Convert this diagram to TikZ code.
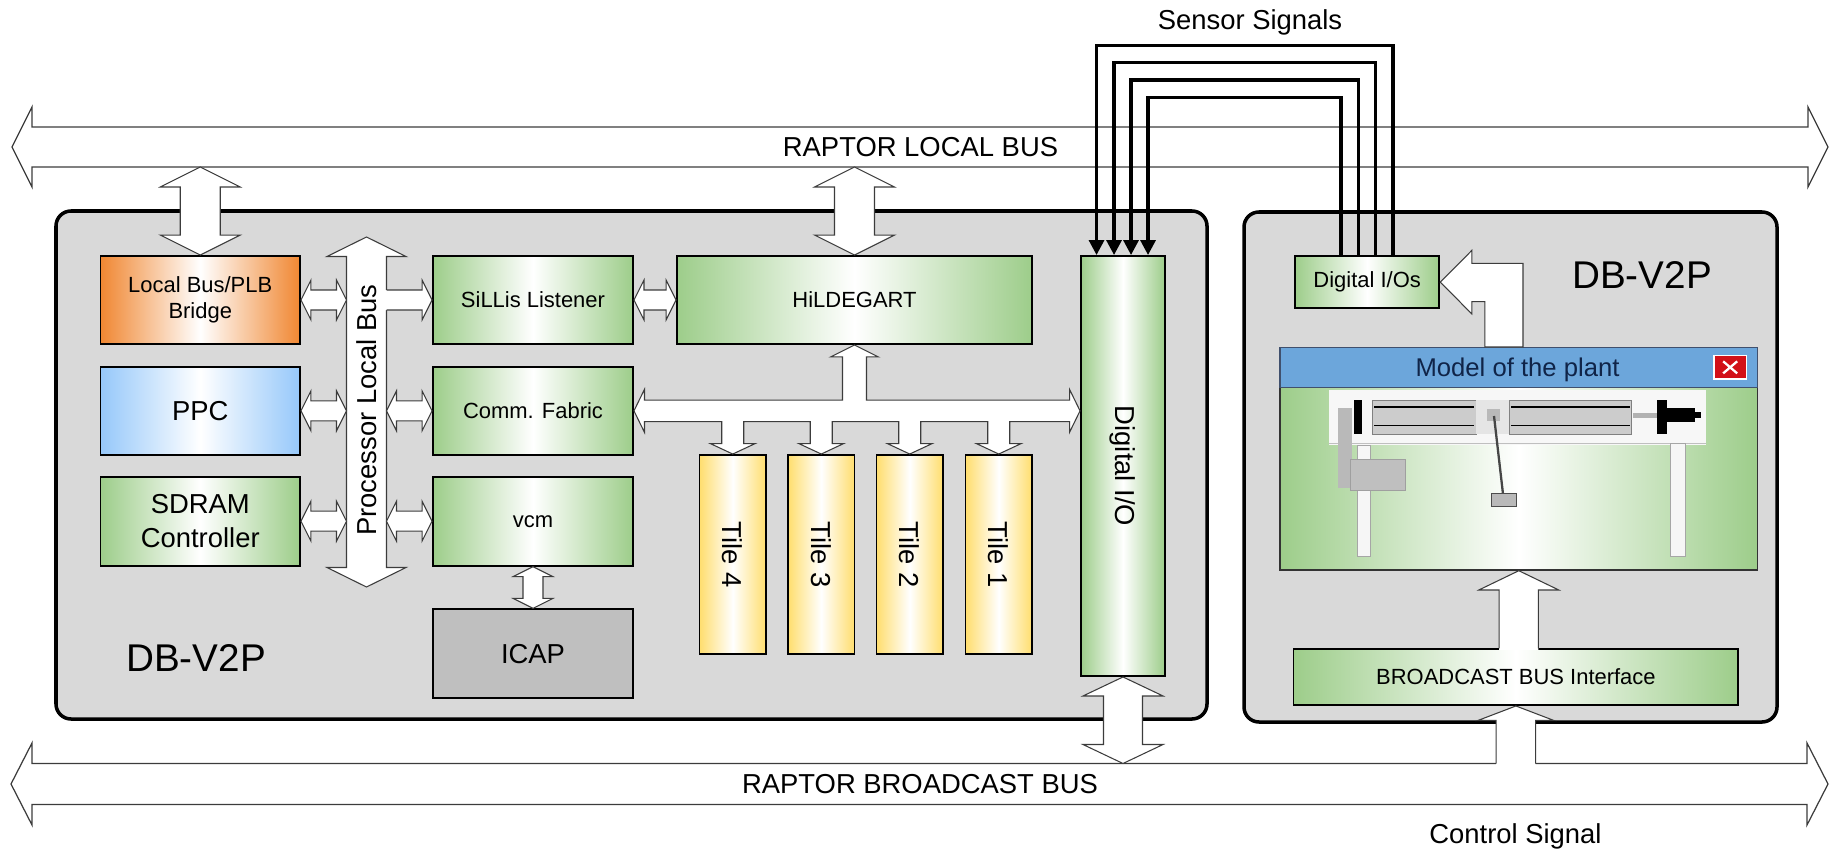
\documentclass[tikz,border=0pt]{standalone}
\usepackage{fontspec}
\setmainfont{Liberation Sans}
\usepackage{graphicx}
\usetikzlibrary{calc,arrows.meta}

\definecolor{panelgray}{RGB}{217,217,217}
\definecolor{greenedge}{RGB}{157,205,138}
\definecolor{orangeedge}{RGB}{240,135,50}
\definecolor{blueedge}{RGB}{150,200,250}
\definecolor{yellowedge}{RGB}{255,222,110}
\definecolor{icapfill}{RGB}{191,191,191}
\definecolor{titlebar}{RGB}{108,166,219}
\definecolor{titleink}{RGB}{16,36,72}
\definecolor{closered}{RGB}{210,16,24}
\definecolor{outline}{RGB}{60,60,60}

\tikzset{
  % a rectangle spanning the corners (#1,#2) and (#3,#4), in drawing units
  span/.style n args={4}{at={({(#1+#3)/2},{(#2+#4)/2})},
    minimum width={(#3-#1)*0.02cm}, minimum height={(#4-#2)*0.02cm}},
  fnsmall/.style={font=\fontsize{12.5}{15.1}\selectfont},
  fnbig/.style={font=\fontsize{15.6}{19.1}\selectfont},
  fnhuge/.style={font=\fontsize{22}{26}\selectfont},
  unit/.style={draw=black, line width=1.1pt, inner sep=0pt, align=center},
  greenunit/.style={unit, left color=greenedge, right color=greenedge, middle color=white},
  orangeunit/.style={unit, left color=orangeedge, right color=orangeedge, middle color=white},
  blueunit/.style={unit, left color=blueedge, right color=blueedge, middle color=white},
  tileunit/.style={unit, left color=yellowedge, right color=yellowedge, middle color=white, fnbig},
  panel/.style={draw=black, line width=2pt, fill=panelgray, rounded corners=0.3cm, inner sep=0pt},
  blockarrow/.style={draw=outline, line width=0.6pt, fill=white, line join=miter},
  busarrow/.style={draw=outline, line width=0.7pt, fill=white},
  sensorline/.style={line width=1.8pt, -{Triangle[length=8.5pt,width=8.5pt]}},
}

% double block arrow, horizontal: #2 left tip, #3 right tip, #4 head length, #5 head half-height, #6 shaft half-height
\newcommand\hdbl[6][blockarrow]{%
  \path (#2) coordinate (ha) (#3) coordinate (hb);
  \draw[#1] (ha) -- ($(ha)+(#4,-#5)$) -- ($(ha)+(#4,-#6)$) -- ($(hb)+(-#4,-#6)$) -- ($(hb)+(-#4,-#5)$) -- (hb)
    -- ($(hb)+(-#4,#5)$) -- ($(hb)+(-#4,#6)$) -- ($(ha)+(#4,#6)$) -- ($(ha)+(#4,#5)$) -- cycle;}
% double block arrow, vertical: #2 top tip, #3 bottom tip
\newcommand\vdbl[6][blockarrow]{%
  \path (#2) coordinate (va) (#3) coordinate (vb);
  \draw[#1] (va) -- ($(va)+(#5,#4)$) -- ($(va)+(#6,#4)$) -- ($(vb)+(#6,-#4)$) -- ($(vb)+(#5,-#4)$) -- (vb)
    -- ($(vb)+(-#5,-#4)$) -- ($(vb)+(-#6,-#4)$) -- ($(va)+(-#6,#4)$) -- ($(va)+(-#5,#4)$) -- cycle;}
% single block arrow pointing right, open tail: #2 tail, #3 tip
\newcommand\rsgl[6][blockarrow]{%
  \path (#2) coordinate (ha) (#3) coordinate (hb);
  \fill[white] ($(ha)+(-1.5,-#6)$) -- ($(hb)+(-#4,-#6)$) -- ($(hb)+(-#4,-#5)$) -- (hb) -- ($(hb)+(-#4,#5)$)
    -- ($(hb)+(-#4,#6)$) -- ($(ha)+(-1.5,#6)$) -- cycle;
  \draw[#1, fill=none] ($(ha)+(0,-#6)$) -- ($(hb)+(-#4,-#6)$) -- ($(hb)+(-#4,-#5)$) -- (hb) -- ($(hb)+(-#4,#5)$)
    -- ($(hb)+(-#4,#6)$) -- ($(ha)+(0,#6)$);}
% single block arrow pointing up, open tail: #2 tip, #3 tail
\newcommand\usgl[6][blockarrow]{%
  \path (#2) coordinate (va) (#3) coordinate (vb);
  \fill[white] ($(vb)+(-#6,1.5)$) -- ($(va)+(-#6,#4)$) -- ($(va)+(-#5,#4)$) -- (va) -- ($(va)+(#5,#4)$)
    -- ($(va)+(#6,#4)$) -- ($(vb)+(#6,1.5)$) -- cycle;
  \draw[#1, fill=none] ($(vb)+(-#6,0)$) -- ($(va)+(-#6,#4)$) -- ($(va)+(-#5,#4)$) -- (va) -- ($(va)+(#5,#4)$)
    -- ($(va)+(#6,#4)$) -- ($(vb)+(#6,0)$);}

\begin{document}
\begin{tikzpicture}[x=0.02cm, y=-0.02cm]
\useasboundingbox (0,0) rectangle (1829,852);

% ---------- system buses ----------
\coordinate (lbusL) at (12,147);
\coordinate (lbusR) at (1828,147);
\hdbl[busarrow]{lbusL}{lbusR}{20}{40}{20}
\coordinate (lbusB) at (0,167);
\coordinate (bbusL) at (11,784);
\coordinate (bbusR) at (1828,784);
\hdbl[busarrow]{bbusL}{bbusR}{21}{41}{20.5}
\coordinate (bbusT) at (0,763.5);
\node[fnbig, anchor=base] (lbuslabel) at (920.5,156.5) {RAPTOR LOCAL BUS};
\node[fnbig, anchor=base] (bbuslabel) at (920,793) {RAPTOR BROADCAST BUS};

% ---------- boards ----------
\node[panel, span={56}{211}{1207}{719}] (leftpanel) {};
\node[panel, span={1244}{212}{1777}{722}] (rightpanel) {};
\node[fnhuge, anchor=base] (leftname) at (196,671.5) {DB-V2P};
\node[fnhuge, anchor=base] (rightname) at (1642,288.5) {DB-V2P};

% ---------- left board units ----------
\node[orangeunit, fnsmall, span={100.5}{256}{300}{344}] (bridge) {Local Bus/PLB\\Bridge};
\node[blueunit, fnbig, span={100.5}{366.7}{300}{455}] (ppc) {PPC};
\node[greenunit, fnbig, span={100.5}{476.7}{300}{565.7}] (sdram) {SDRAM\\Controller};
\node[greenunit, fnsmall, span={433}{256}{633}{344}] (sillis) {SiLLis Listener};
\node[greenunit, fnsmall, span={677}{256}{1032}{344}] (hildegart) {HiLDEGART};
\node[greenunit, fnsmall, span={433}{366.7}{633}{455}] (comm) {Comm. Fabric};
\node[greenunit, fnsmall, span={433}{476.7}{633}{565.7}] (vcm) {vcm};
\node[unit, fill=icapfill, fnbig, span={433}{609.3}{633}{698.3}] (icap) {ICAP};
\node[tileunit, span={699.5}{455}{766}{654}] (tile4) {\rotatebox{-90}{Tile 4}};
\node[tileunit, span={788}{455}{854.5}{654}] (tile3) {\rotatebox{-90}{Tile 3}};
\node[tileunit, span={876.5}{455}{943}{654}] (tile2) {\rotatebox{-90}{Tile 2}};
\node[tileunit, span={965.5}{455}{1032}{654}] (tile1) {\rotatebox{-90}{Tile 1}};
\node[greenunit, fnbig, span={1081}{256}{1165}{676}] (dio) {\rotatebox{-90}{Digital I/O}};

% ---------- right board units ----------
\node[greenunit, fnsmall, span={1295}{256}{1439.3}{308.3}] (dios) {Digital I/Os};
\node[greenunit, fnsmall, span={1293.5}{649.3}{1738.3}{705}] (bbi) {BROADCAST BUS Interface};

% plant model window
\node[draw=black!80, line width=0.8pt, inner sep=0pt, left color=greenedge, right color=greenedge, middle color=white,
      span={1280}{347.7}{1757.6}{570}] (model) {};
\node[draw=titleink!80, line width=0.8pt, fill=titlebar, inner sep=0pt, span={1280}{347.7}{1757.6}{387.3}] (modelbar) {};
\node[font=\fontsize{14.6}{17}\selectfont, text=titleink, anchor=base] (modeltitle) at (1517.5,376) {Model of the plant};
\node[fill=closered, draw=white, line width=0.8pt, inner sep=0pt, span={1714}{355.7}{1746.3}{379}] (closebtn) {};
\draw[white, line width=1.3pt] ($(closebtn.center)+(-7,-6)$) -- ($(closebtn.center)+(7,6)$)
  ($(closebtn.center)+(-7,6)$) -- ($(closebtn.center)+(7,-6)$);

% crane with pendulum inside the window
\fill[white!94!gray] (1329,390) rectangle (1706,445);
\draw[gray!50, line width=0.4pt] (1329,443) -- (1706,443);
\draw[gray!70, line width=0.5pt, fill=white!93!gray] (1357.3,445) rectangle (1370,556.7);
\draw[gray!70, line width=0.5pt, fill=white!93!gray] (1670.7,443) rectangle (1685,556.7);
\fill[gray!55] (1338.3,408) rectangle (1351.7,488.3);
\draw[gray!75, line width=0.5pt, fill=gray!50] (1350,459) rectangle (1405,490);
\draw[gray, line width=0.5pt, fill=gray!40] (1372.7,400) rectangle (1476,434.3);
\draw[gray, line width=0.5pt, fill=gray!40] (1509,400) rectangle (1631.7,434.3);
\draw[black, line width=1.1pt] (1374,406.7) -- (1474,406.7) (1374,425.5) -- (1474,425.5)
  (1511,406.7) -- (1630,406.7) (1511,425.5) -- (1630,425.5);
\fill[gray!20] (1476,400) rectangle (1509,434.3);
\fill[gray!55] (1487,409) rectangle (1500,421);
\fill[black] (1354,400) rectangle (1361.7,434.3);
\fill[gray!60] (1633,412.5) rectangle (1656.7,418);
\fill[black] (1656.7,400) rectangle (1666.7,434.3);
\fill[black] (1666.7,407.7) rectangle (1695,422.3);
\fill[black] (1695,411.7) rectangle (1700.7,418.3);
\draw[gray!55!black, line width=1.3pt] (1494,416) -- (1503,494);
\draw[gray!60!black, line width=0.4pt, fill=gray!55] (1491.7,493.3) rectangle (1516.7,506.7);

% ---------- processor local bus ----------
\coordinate (plbT) at (366.5,237);
\coordinate (plbB) at (366.5,587);
\vdbl{plbT}{plbB}{19.5}{39.5}{20}
\node[fnbig] (plblabel) at (366.5,410) {\rotatebox{90}{Processor Local Bus}};
\coordinate (plbW) at (346.5,0);
\coordinate (plbE) at (386.5,0);

% ---------- links between units ----------
\hdbl{bridge.east}{bridge.east -| plbW}{10}{20}{10}
\hdbl{ppc.east}{ppc.east -| plbW}{10}{20}{10}
\hdbl{sdram.east}{sdram.east -| plbW}{10}{20}{10}
\rsgl{sillis.west -| plbE}{sillis.west}{10}{20}{10}
\hdbl{comm.west -| plbE}{comm.west}{10}{20}{10}
\hdbl{vcm.west -| plbE}{vcm.west}{10}{20}{10}
\hdbl{sillis.east}{hildegart.west}{10}{20}{10}
\vdbl{bridge.north |- lbusB}{bridge.north}{20}{40}{20}
\vdbl{hildegart.north |- lbusB}{hildegart.north}{20}{40}{20}
\vdbl{vcm.south}{icap.north}{10}{20}{10}
\vdbl{dio.south}{dio.south |- bbusT}{19}{40}{19.5}
\usgl{bbi.south}{bbi.south |- bbusT}{14.5}{38}{19.7}
\usgl{model.south}{model.south |- bbi.north}{19.3}{40}{19.6}

% communication fabric tree
\coordinate (cfL) at (comm.east);
\coordinate (cfR) at (dio.west |- comm.east);
\coordinate (cfT) at ($(cfL)+(0,-10.75)$);
\coordinate (cfB) at ($(cfL)+(0,10.75)$);
\draw[blockarrow] (cfL) -- ($(cfL)+(10.5,-21.5)$) -- ($(cfL)+(10.5,-10.75)$)
  -- ($(hildegart.south |- cfT)+(-12,0)$) -- ($(hildegart.south)+(-12,12)$) -- ($(hildegart.south)+(-24,12)$)
  -- (hildegart.south) -- ($(hildegart.south)+(24,12)$) -- ($(hildegart.south)+(12,12)$)
  -- ($(hildegart.south |- cfT)+(12,0)$)
  -- ($(cfR)+(-10.5,-10.75)$) -- ($(cfR)+(-10.5,-21.5)$) -- (cfR) -- ($(cfR)+(-10.5,21.5)$) -- ($(cfR)+(-10.5,10.75)$)
  \foreach \tn in {tile1,tile2,tile3,tile4} {
    -- ($(\tn.north |- cfB)+(11,0)$) -- ($(\tn.north)+(11,-10.5)$) -- ($(\tn.north)+(22.5,-10.5)$)
    -- (\tn.north) -- ($(\tn.north)+(-22.5,-10.5)$) -- ($(\tn.north)+(-11,-10.5)$) -- ($(\tn.north |- cfB)+(-11,0)$) }
  -- ($(cfL)+(10.5,10.75)$) -- ($(cfL)+(10.5,21.5)$) -- cycle;

% model feeds the digital outputs
\coordinate (eT) at (dios.east);
\coordinate (eA) at ($(eT)+(44.5,0)$);
\coordinate (eB) at ($(eT)+(82.7,0)$);
\draw[blockarrow] (eA |- model.north) -- ($(eT)+(44.5,19.5)$) -- ($(eT)+(31.5,19.5)$) -- ($(eT)+(31.5,31.7)$)
  -- (eT) -- ($(eT)+(31.5,-31.7)$) -- ($(eT)+(31.5,-18.8)$) -- ($(eT)+(82.7,-18.8)$) -- (eB |- model.north) -- cycle;

% ---------- sensor signals ----------
\coordinate (st1) at (0,45.7);
\coordinate (st2) at (0,62.7);
\coordinate (st3) at (0,80);
\coordinate (st4) at (0,97.7);
\coordinate (sa1) at ($(dios.north west)+(99,0)$);
\coordinate (sa2) at ($(dios.north west)+(81.5,0)$);
\coordinate (sa3) at ($(dios.north west)+(64.3,0)$);
\coordinate (sa4) at ($(dios.north west)+(47,0)$);
\coordinate (sb1) at ($(dio.north west)+(16.5,0)$);
\coordinate (sb2) at ($(dio.north west)+(34,0)$);
\coordinate (sb3) at ($(dio.north west)+(51,0)$);
\coordinate (sb4) at ($(dio.north west)+(68,0)$);
\foreach \k in {1,2,3,4} {
  \draw[sensorline] (sa\k) -- (sa\k |- st\k) -- (sb\k |- st\k) -- (sb\k);
}
\node[fnbig, anchor=base] (sensorlabel) at (1250,29.5) {Sensor Signals};
\node[fnbig, anchor=base] (ctrllabel) at (1515.5,843.5) {Control Signal};
\end{tikzpicture}
\end{document}
